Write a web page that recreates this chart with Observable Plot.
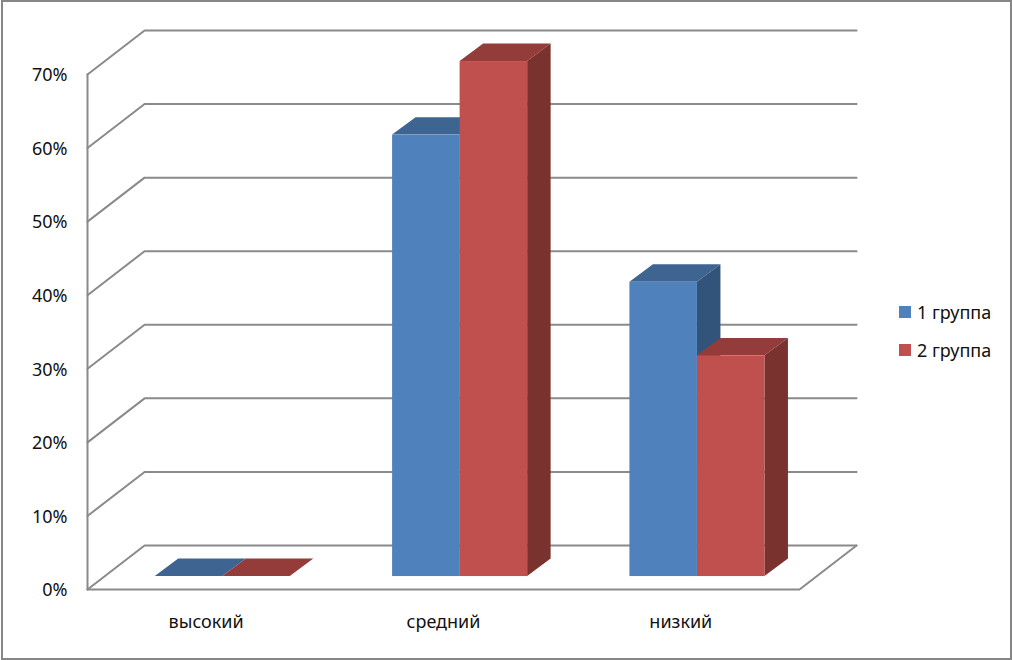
<!DOCTYPE html>
<html>
<head>
<meta charset="utf-8">
<script src="https://cdn.jsdelivr.net/npm/d3@7"></script>
<script src="https://cdn.jsdelivr.net/npm/@observablehq/plot@0.6"></script>
<style>
html,body{margin:0;padding:0;background:#fff;overflow:hidden;width:1012px;height:660px}
#wrap{position:relative;width:1012px;height:660px;font-family:"Noto Sans",sans-serif}
#wrap svg{display:block;position:absolute;left:0;top:0}
#border{position:absolute;left:1px;top:0;width:1007px;height:656px;border:2px solid #868686;pointer-events:none}
#legend{position:absolute;left:899px;top:300px;font-size:18px;color:#111;line-height:24px}
#legend div{position:absolute;left:0;white-space:nowrap;display:flex;align-items:center}
#legend i{display:inline-block;width:12px;height:12px;margin-right:6px}
</style>
</head>
<body>
<div id="wrap"><div id="chart"></div><div id="border"></div><div id="legend"></div></div>
<script>
const categories = ["высокий", "средний", "низкий"];
const seriesNames = ["1 группа", "2 группа"];
const group1 = [0, 0.6, 0.4];
const group2 = [0, 0.7, 0.3];
const yTicks = [0, 0.1, 0.2, 0.3, 0.4, 0.5, 0.6, 0.7];

const frontColors = ["#4F81BD", "#C0504D"];
const topColors = ["#3E6492", "#943C3A"];
const sideColors = ["#33547A", "#7A322F"];
const gridColor = "#8A8A8A";

// Depth of the chart box and of the bars, in data units (categories, share)
const wallDX = 0.2405, wallDY = 0.0598;
const barDX = 0.099, barDY = 0.0237;
const barStart = 0.2855, barWidth = 0.2845, barBase = 0.0176;

const n = categories.length;
const gridLines = yTicks.flatMap(v => [
  {k: v, x: 0, y: v},
  {k: v, x: wallDX, y: v + wallDY},
  {k: v, x: n + wallDX, y: v + wallDY}
]);
const frame = [
  {k: "wall", x: 0, y: 0}, {k: "wall", x: 0, y: yTicks[yTicks.length - 1]},
  {k: "floor", x: 0, y: 0}, {k: "floor", x: n, y: 0}, {k: "floor", x: n + wallDX, y: wallDY}
];

const barMarks = [group1, group2].flatMap((values, s) => {
  const bars = values.map((v, i) => {
    const x1 = i + barStart + s * barWidth, x2 = x1 + barWidth;
    return {i, x1, x2, y1: barBase, y2: barBase + v};
  });
  const top = bars.flatMap(b => [
    {k: b.i, y: b.y2, x1: b.x1, x2: b.x2},
    {k: b.i, y: b.y2 + barDY, x1: b.x1 + barDX, x2: b.x2 + barDX}
  ]);
  const side = bars.flatMap(b => [
    {k: b.i, x: b.x2, y1: b.y1, y2: b.y2},
    {k: b.i, x: b.x2 + barDX, y1: b.y1 + barDY, y2: b.y2 + barDY}
  ]);
  return [
    Plot.areaX(top, {y: "y", x1: "x1", x2: "x2", z: "k", fill: topColors[s]}),
    Plot.areaY(side, {x: "x", y1: "y1", y2: "y2", z: "k", fill: sideColors[s]}),
    Plot.rect(bars, {x1: "x1", x2: "x2", y1: "y1", y2: "y2", fill: frontColors[s], inset: 0})
  ];
});

const chart = Plot.plot({
  width: 1012,
  height: 660,
  marginLeft: 87,
  marginRight: 213,
  marginTop: 74,
  marginBottom: 71,
  style: {fontFamily: "'Noto Sans', sans-serif", fontSize: "18px", color: "#111", background: "transparent"},
  x: {type: "linear", domain: [0, n]},
  y: {type: "linear", domain: [0, 0.7]},
  marks: [
    Plot.line(gridLines, {x: "x", y: "y", z: "k", stroke: gridColor, strokeWidth: 2, strokeLinejoin: "miter"}),
    Plot.line(frame, {x: "x", y: "y", z: "k", stroke: gridColor, strokeWidth: 2, strokeLinejoin: "miter"}),
    ...barMarks,
    Plot.axisY(yTicks, {tickSize: 0, tickPadding: 20, dy: 1, tickFormat: d3.format(".0%"), label: null, fontSize: 18, fill: "#111"}),
    Plot.axisX(categories.map((c, i) => i + 0.5), {tickSize: 0, tickPadding: 26, tickFormat: d => categories[Math.floor(d)], label: null, fontSize: 18, fill: "#111"})
  ]
});
document.getElementById("chart").appendChild(chart);

const legend = d3.select("#legend");
seriesNames.forEach((name, i) => {
  const row = legend.append("div").style("top", (i * 38) + "px");
  row.append("i").style("background", frontColors[i]);
  row.append("span").text(name);
});
</script>
</body>
</html>
